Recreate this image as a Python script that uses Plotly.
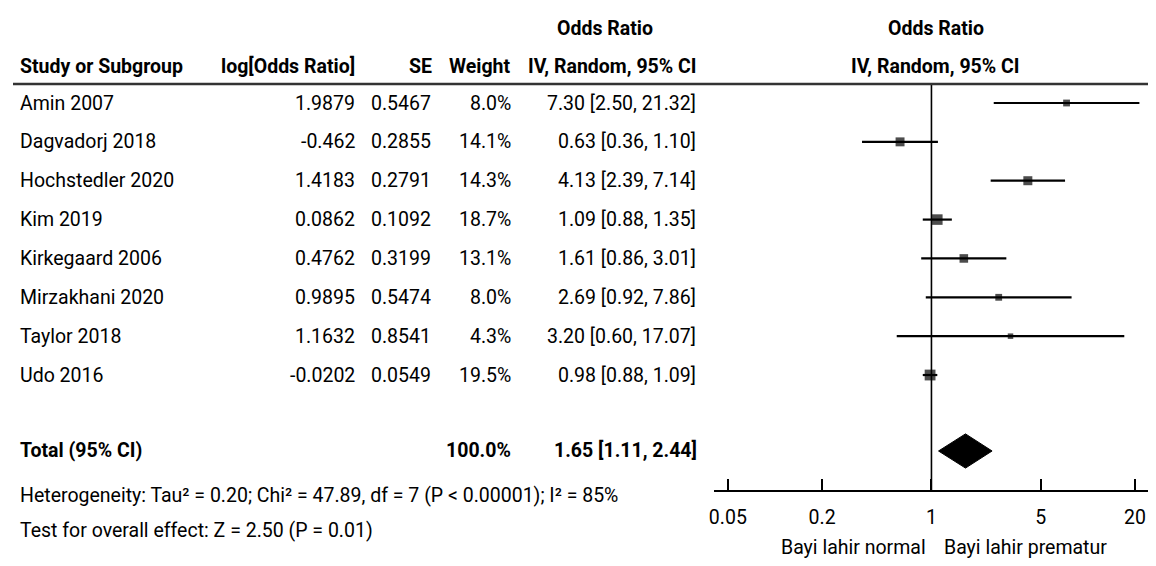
import math
import plotly.graph_objects as go

# ---------------- data ----------------
studies = ["Amin 2007", "Dagvadorj 2018", "Hochstedler 2020", "Kim 2019",
           "Kirkegaard 2006", "Mirzakhani 2020", "Taylor 2018", "Udo 2016"]
log_or = ["1.9879", "-0.462", "1.4183", "0.0862", "0.4762", "0.9895", "1.1632", "-0.0202"]
se = ["0.5467", "0.2855", "0.2791", "0.1092", "0.3199", "0.5474", "0.8541", "0.0549"]
weight = [8.0, 14.1, 14.3, 18.7, 13.1, 8.0, 4.3, 19.5]
odds = [7.30, 0.63, 4.13, 1.09, 1.61, 2.69, 3.20, 0.98]
ci_low = [2.50, 0.36, 2.39, 0.88, 0.86, 0.92, 0.60, 0.88]
ci_high = [21.32, 1.10, 7.14, 1.35, 3.01, 7.86, 17.07, 1.09]

total_label = "Total (95% CI)"
total_weight = "100.0%"
total_or = 1.65
total_low = 1.11
total_high = 2.44

tick_vals = [0.05, 0.2, 1, 5, 20]
tick_text = ["0.05", "0.2", "1", "5", "20"]

heterogeneity = "Heterogeneity: Tau² = 0.20; Chi² = 47.89, df = 7 (P < 0.00001); I² = 85%"
overall = "Test for overall effect: Z = 2.50 (P = 0.01)"
left_label = "Bayi lahir normal"
right_label = "Bayi lahir prematur"

# ---------------- layout helpers ----------------
OFF = 8                      # default page body margin
W, H = 1156 - 2 * OFF, 566 - 2 * OFF      # keep page free of scrollbars
FONT = "Roboto, Liberation Sans Narrow, sans-serif"
FS = 19.5
ROW0, ROWH = 103, 38.86      # first row centre and row pitch (page px)
rows = list(range(len(studies)))
total_row = 8.955
het_row = 10.11
test_row = 10.99
head_row = -0.95
head2_row = -1.93
line_row = -0.49
axis_row = 9.98
side_row = 11.43
y_top, y_bot = (OFF - ROW0) / ROWH, (OFF + H - ROW0) / ROWH

# forest axis: 0.05 tick at page x 726, 20 tick at 1135, axis line from 712 to 1148
AX_L, AX_R, T_LO, T_HI = 712, 1148, 726, 1135
per_dec = (T_HI - T_LO) / (math.log10(20) - math.log10(0.05))
x_lo = math.log10(0.05) - (T_LO - AX_L) / per_dec
x_hi = math.log10(20) + (AX_R - T_HI) / per_dec


def px(x):
    return (x - OFF) / W


fig = go.Figure()

# CI lines
xs, ys = [], []
for r, lo, hi in zip(rows, ci_low, ci_high):
    xs += [lo, hi, None]
    ys += [r, r, None]
fig.add_trace(go.Scatter(x=xs, y=ys, mode="lines",
                         line=dict(color="black", width=2.2), hoverinfo="skip",
                         showlegend=False))
# squares
fig.add_trace(go.Scatter(x=odds, y=rows, mode="markers",
                         marker=dict(symbol="square", color="black",
                                     size=[4 + 0.35 * w for w in weight],
                                     line=dict(width=0)),
                         showlegend=False))
# diamond
dh = 0.44
fig.add_trace(go.Scatter(x=[total_low, total_or, total_high, total_or, total_low],
                         y=[total_row, total_row - dh, total_row, total_row + dh, total_row],
                         mode="lines", fill="toself", fillcolor="black",
                         line=dict(color="black", width=1), showlegend=False))

# vertical line at 1
fig.add_shape(type="line", xref="x", yref="y", x0=1, x1=1, y0=line_row, y1=axis_row,
              line=dict(color="black", width=1.6))
# header rule
fig.add_shape(type="line", xref="paper", yref="y", x0=0, x1=1, y0=line_row, y1=line_row,
              line=dict(color="#333333", width=2.5))

ann = []


def t(text, x, y, anchor="left", bold=False):
    ann.append(dict(text=f"<b>{text}</b>" if bold else text, x=px(x), y=y,
                    xref="paper", yref="y", xanchor=anchor, yanchor="middle",
                    showarrow=False, font=dict(family=FONT, size=FS, color="black")))


# headers
t("Odds Ratio", 603, head2_row, "center", True)
t("Odds Ratio", 935, head2_row, "center", True)
t("Study or Subgroup", 13, head_row, "left", True)
t("log[Odds Ratio]", 354, head_row, "right", True)
t("SE", 431, head_row, "right", True)
t("Weight", 510, head_row, "right", True)
t("IV, Random, 95% CI", 697, head_row, "right", True)
t("IV, Random, 95% CI", 935, head_row, "center", True)

for r, name, lo_, s, w, o, lo, hi in zip(rows, studies, log_or, se, weight, odds, ci_low, ci_high):
    t(name, 13, r)
    t(lo_, 354, r, "right")
    t(s, 430, r, "right")
    t(f"{w:.1f}%", 510, r, "right")
    t(f"{o:.2f} [{lo:.2f}, {hi:.2f}]", 696, r, "right")

t(total_label, 13, total_row, "left", True)
t(total_weight, 510, total_row, "right", True)
t(f"{total_or:.2f} [{total_low:.2f}, {total_high:.2f}]", 697, total_row, "right", True)
t(heterogeneity, 13, het_row)
t(overall, 13, test_row)
t(left_label, 927, side_row, "right")
t(right_label, 941, side_row, "left")

fig.update_layout(
    width=W, height=H, margin=dict(l=0, r=0, t=0, b=0),
    paper_bgcolor="white", plot_bgcolor="white", showlegend=False,
    annotations=ann,
    xaxis=dict(type="log", range=[x_lo, x_hi],
               domain=[px(AX_L), px(AX_R)], anchor="free",
               position=(y_bot - axis_row) / (y_bot - y_top),
               showgrid=False, zeroline=False, showline=True, linecolor="black", linewidth=2,
               ticks="inside", ticklen=11, tickwidth=1.5, tickcolor="black",
               tickvals=tick_vals, ticktext=tick_text, ticklabelstandoff=9,
               ticklabeloverflow="allow",
               tickfont=dict(family=FONT, size=FS, color="black")),
    yaxis=dict(range=[y_bot, y_top], domain=[0, 1], visible=False, showgrid=False,
               zeroline=False),
)

fig.write_html("out.html")
